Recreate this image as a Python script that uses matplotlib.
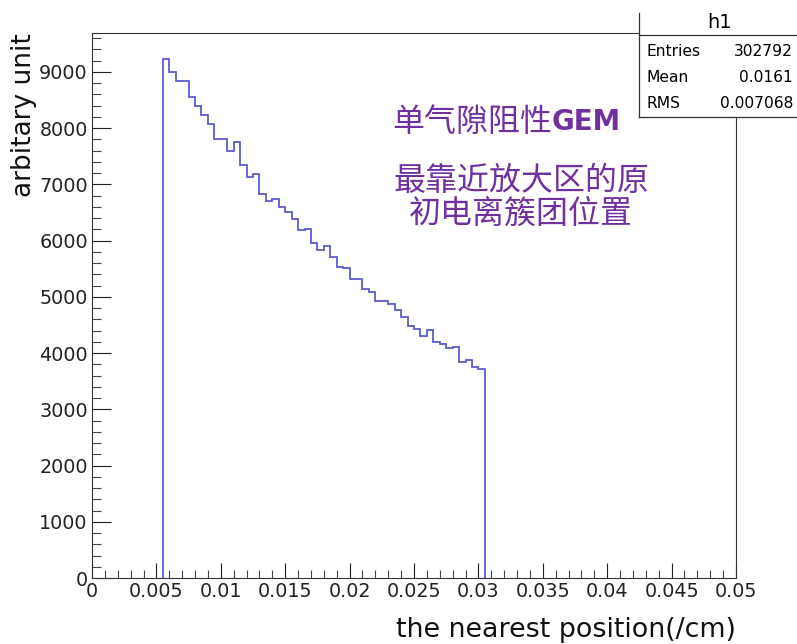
import numpy as np
import matplotlib
matplotlib.use('Agg')
import matplotlib.pyplot as plt
from matplotlib.patches import Rectangle
from matplotlib.lines import Line2D
from matplotlib.ticker import MultipleLocator

## -----------------------------------------------------------------------------

## histogram h1: 50 filled bins of width 0.0005 starting at 0.0055

bin_lo = 0.0055
bin_width = 0.0005
counts = [9230, 8990, 8830, 8840, 8560, 8400, 8225, 8075, 7815, 7815,
          7600, 7755, 7350, 7137, 7185, 6824, 6711, 6735, 6604, 6515,
          6380, 6190, 6202, 5953, 5834, 5911, 5715, 5537, 5508, 5312,
          5312, 5134, 5093, 4932, 4932, 4873, 4767, 4650, 4480, 4423,
          4304, 4411, 4203, 4162, 4085, 4103, 3847, 3877, 3758, 3712]

xtick_vals = [0, 0.005, 0.01, 0.015, 0.02, 0.025, 0.03, 0.035, 0.04, 0.045, 0.05]
xtick_labels = ['0', '0.005', '0.01', '0.015', '0.02', '0.025', '0.03',
                '0.035', '0.04', '0.045', '0.05']
ytick_vals = [0, 1000, 2000, 3000, 4000, 5000, 6000, 7000, 8000, 9000]
ytick_labels = [str(v) for v in ytick_vals]

stats_names = ['Entries', 'Mean', 'RMS']
stats_values = ['302792', '0.0161', '0.007068']

note_line1 = '单气隙阻性'
note_line1_latin = 'GEM'
note_lines = ['最靠近放大区的原', '初电离簇团位置']

## -----------------------------------------------------------------------------

W, H = 797, 644
fx = lambda px: px / W
fy = lambda py: (H - py) / H

plt.rcParams['font.family'] = ['DejaVu Sans']
fig = plt.figure(figsize=(W / 100, H / 100), dpi=100)
ax = fig.add_axes([fx(92), fy(578), fx(736) - fx(92), fy(33) - fy(578)])

edges = bin_lo + bin_width * np.arange(len(counts) + 1)
ax.stairs(counts, edges, baseline=0, color='#5c5cd0', linewidth=1.3)

ax.set_xlim(0, 0.05)
ax.set_ylim(0, max(counts) * 1.05)

ax.set_xticks(xtick_vals)
ax.set_xticklabels(xtick_labels)
ax.set_yticks(ytick_vals)
ax.set_yticklabels(ytick_labels)
ax.xaxis.set_minor_locator(MultipleLocator(0.001))
ax.yaxis.set_minor_locator(MultipleLocator(200))

ax.tick_params(axis='x', which='major', direction='in', length=11, width=0.8,
               labelsize=13.8, pad=3, colors='#222222')
ax.tick_params(axis='x', which='minor', direction='in', length=5.5, width=0.8,
               colors='#444444')
ax.tick_params(axis='y', which='major', direction='in', length=14, width=0.8,
               labelsize=13.8, pad=3, colors='#222222')
ax.tick_params(axis='y', which='minor', direction='in', length=6.5, width=0.8,
               colors='#444444')
for sp in ax.spines.values():
    sp.set_linewidth(0.8)
    sp.set_color('#333333')

fig.text(fx(736), fy(630), 'the nearest position(/cm)', ha='right', va='center',
         fontsize=19.4, color='#111111')
fig.text(fx(24), fy(33), 'arbitary unit', ha='center', va='top', rotation=90,
         fontsize=19, color='#111111')

## stats box (its top is cut off by the canvas edge, as in the ROOT picture)
box = Rectangle((fx(639), fy(117)), 0.3, fy(13) - fy(117), transform=fig.transFigure,
                facecolor='white', edgecolor='none', zorder=5)
fig.add_artist(box)
box_lines = [([fx(639), fx(639)], [fy(117), fy(13)]),
             ([fx(639), 1.0], [fy(35), fy(35)]),
             ([fx(639), 1.0], [fy(117), fy(117)])]
for xs, ys in box_lines:
    fig.add_artist(Line2D(xs, ys, transform=fig.transFigure,
                          color='#333333', linewidth=0.9, zorder=6))
fig.text(fx(720), fy(23), 'h1', ha='center', va='center', fontsize=14, zorder=7)
for i, (name, val) in enumerate(zip(stats_names, stats_values)):
    yy = fy(51 + 26 * i)
    fig.text(fx(647), yy, name, ha='left', va='center', fontsize=11.2, zorder=7)
    fig.text(fx(793), yy, val, ha='right', va='center', fontsize=11.2, zorder=7)

## annotation in purple
purple = '#7030a0'
t1 = fig.text(fx(392), fy(122), note_line1, ha='left', va='center', fontsize=23,
              color=purple, family=['Noto Sans CJK SC', 'DejaVu Sans'])
ax.annotate(note_line1_latin, xy=(1.0, 0.5), xycoords=t1, ha='left', va='center',
            fontsize=20, fontweight='bold', color=purple, annotation_clip=False)
for i, line in enumerate(note_lines):
    fig.text(fx(521), fy(181 + 33 * i), line, ha='center', va='center', fontsize=23,
             color=purple, family=['Noto Sans CJK SC', 'DejaVu Sans'])

fig.savefig('out.png', dpi=100)
